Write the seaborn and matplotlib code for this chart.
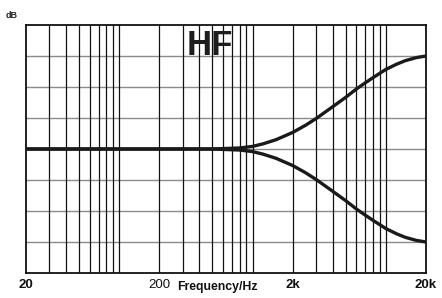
import matplotlib
matplotlib.use("Agg")
import matplotlib.pyplot as plt
import seaborn as sns
import pandas as pd

# Data (high-shelf boost/cut, dB)
freqs = [20, 200, 500, 800, 1000, 1200, 1500, 2000, 2500, 3000, 4000, 5000, 6000,
         7000, 8000, 10000, 12000, 14000, 17000, 20000]
boost = [0, 0, 0, 0.1, 0.25, 0.5, 0.9, 1.6, 2.3, 2.95, 4.1, 5.0, 5.8,
         6.4, 6.9, 7.7, 8.2, 8.55, 8.85, 9.0]
cut = [0, 0, 0, -0.1, -0.25, -0.5, -0.9, -1.6, -2.3, -2.95, -4.1, -5.0, -5.8,
       -6.4, -6.9, -7.7, -8.2, -8.55, -8.85, -9.0]
tick_vals = [20, 200, 2000, 20000]
tick_labels = ["20", "200", "2k", "20k"]
grid_freqs = [30, 40, 50, 60, 70, 80, 90, 100, 200, 300, 400, 500, 600, 700, 800, 900,
              1000, 2000, 3000, 4000, 5000, 6000, 7000, 8000, 9000, 10000]
db_lines = [-9, -6, -3, 0, 3, 6, 9]

sns.set_style("white")
plt.rcParams['font.family'] = ['Liberation Sans', 'DejaVu Sans']

df = pd.DataFrame({
    "freq": freqs + freqs,
    "gain": boost + cut,
    "curve": ["boost"] * len(freqs) + ["cut"] * len(freqs),
})

fig = plt.figure(figsize=(4.42, 2.98), dpi=100)
ax = fig.add_axes([26 / 442, 1 - 273 / 298, 400 / 442, 248 / 298])

for y in db_lines:
    ax.axhline(y, color="#8a8a8a", lw=1.0, zorder=1)
for f in grid_freqs:
    ax.axvline(f, color="#111111", lw=0.9, zorder=1)

sns.lineplot(data=df, x="freq", y="gain", hue="curve", palette=["#1a1a1a", "#1a1a1a"],
             lw=2.4, legend=False, ax=ax, zorder=3, estimator=None, sort=False)
for ln in ax.get_lines():
    ln.set_solid_joinstyle("round")
    ln.set_solid_capstyle("round")

ax.set_xscale("log")
ax.set_xlim(20, 20000)
ax.set_ylim(-12, 12)
ax.set_xticks(tick_vals)
ax.set_xticklabels(tick_labels)
ax.xaxis.set_minor_locator(matplotlib.ticker.NullLocator())
ax.set_yticks([])
ax.set_xlabel("")
ax.set_ylabel("")
ax.tick_params(axis="x", length=0, pad=4, labelsize=9.5, colors="#111111")
for lab in ax.get_xticklabels():
    if lab.get_text() != "200":
        lab.set_fontweight("bold")

for s in ax.spines.values():
    s.set_color("#111111")
    s.set_linewidth(1.3)
    s.set_visible(True)

fig.text(210 / 442, 1 - 55 / 298, "HF", ha="center", va="baseline",
         fontsize=25, fontweight="bold", color="#1e1e1e")
fig.text(12 / 442, 1 - 16 / 298, "dB", ha="center", va="center", fontsize=6.5,
         fontweight="bold", color="#222222")
fig.text(217 / 442, 1 - 287 / 298, "Frequency/Hz", ha="center", va="center", fontsize=8.8,
         fontweight="bold", color="#111111")

fig.savefig("out.png", dpi=100)
